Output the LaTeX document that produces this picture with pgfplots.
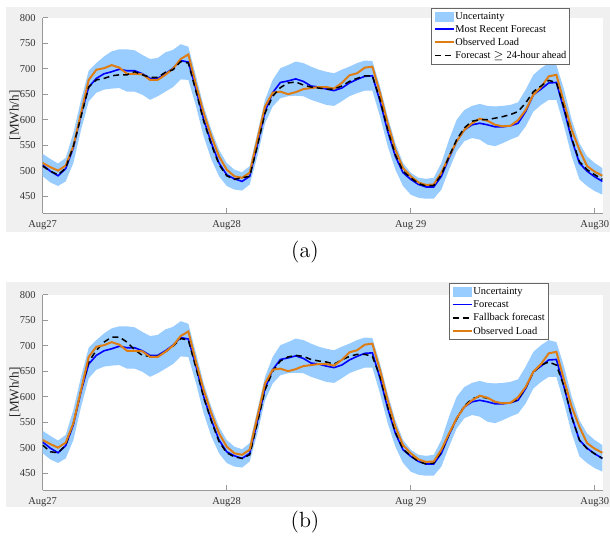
\documentclass[border=0pt]{standalone}
\usepackage{fontspec}
\usepackage{pgfplots}
\pgfplotsset{compat=1.18}
\usepackage{pgfplotstable}
\usepgfplotslibrary{fillbetween}
\newfontfamily\tnr{Liberation Serif}

\definecolor{band}{RGB}{153,204,255}
\definecolor{obs}{RGB}{222,125,20}
\definecolor{figbg}{RGB}{240,240,240}

% hourly values from Aug 27 00:00: uncertainty bounds, forecast, observed load, >=24h forecast
\pgfplotstableread{
h  up  lo  fc  obs ahead
0  533 489 511 515 509
1  523 477 499 507 499
2  514 470 490 500 492
3  525 479 504 510 505
4  574 515 545 548 548
5  639 580 610 613 606
6  696 636 664 678 664
7  711 653 681 698 678
8  724 659 690 701 681
9  734 661 694 707 686
10 738 662 699 702 688
11 738 655 696 690 688
12 736 655 696 690 694
13 727 649 690 689 688
14 719 639 681 678 683
15 721 646 681 678 683
16 732 655 690 688 693
17 737 664 701 700 698
18 748 679 716 719 714
19 743 678 713 728 711
20 685 626 659 668 655
21 626 567 600 613 597
22 580 522 554 567 551
23 541 489 515 528 512
24 515 470 492 502 490
25 502 463 484 489 483
26 497 461 479 486 486
27 509 473 489 496 489
28 574 528 551 561 548
29 639 593 616 626 613
30 678 626 653 653 646
31 701 642 673 655 663
32 707 646 676 650 672
33 714 647 680 654 674
34 711 646 675 660 668
35 704 639 666 662 664
36 698 634 664 664 662
37 694 629 660 664 660
38 691 627 657 661 660
39 698 636 662 672 666
40 704 646 672 687 675
41 711 652 679 691 681
42 716 657 685 702 686
43 715 657 686 704 686
44 665 606 636 652 639
45 606 548 577 593 580
46 554 502 528 541 531
47 515 470 496 505 499
48 496 453 483 489 486
49 486 447 473 477 475
50 484 445 468 472 470
51 486 445 468 473 471
52 515 463 489 496 492
53 561 502 525 528 528
54 600 538 558 558 561
55 619 558 580 580 584
56 627 564 590 593 597
57 631 561 593 602 600
58 627 551 590 598 600
59 626 548 586 590 603
60 627 554 586 587 606
61 629 561 588 588 610
62 634 567 593 599 616
63 659 587 616 619 633
64 688 616 649 649 655
65 701 629 660 664 666
66 711 639 672 685 677
67 707 639 673 688 673
68 659 587 619 633 623
69 600 528 561 580 564
70 554 483 515 541 518
71 528 470 499 509 502
72 515 460 488 498 492
73 505 453 479 490 483
}\dataA

% fallback forecast, panel (b)
\pgfplotstableread{
h  fb
0  505
1  492
2  490
3  505
4  548
5  613
6  668
7  691
8  707
9  717
10 717
11 707
12 692
13 681
14 679
15 679
16 688
17 699
18 714
19 711
20 656
21 598
22 552
23 512
24 490
25 482
26 479
27 486
28 548
29 613
30 650
31 670
32 678
33 681
34 679
35 673
36 670
37 668
38 664
39 672
40 679
41 683
42 683
43 679
44 639
45 580
46 530
47 497
48 484
49 473
50 468
51 470
52 492
53 526
54 556
55 582
56 596
57 600
58 597
59 590
60 587
61 588
62 595
63 618
64 648
65 662
66 668
67 662
68 620
69 560
70 515
71 498
72 488
73 479
}\dataB

\pgfplotsset{
  loadaxis/.style={
    scale only axis, width=280pt, height=97.65pt,
    xmin=0, xmax=73.04, ymin=417, ymax=800,
    xtick={0,24,48,72}, xticklabels={Aug27,Aug28,Aug 29,Aug30},
    ytick={450,500,...,800},
    axis x line*=bottom, axis y line*=left,
    axis line style={black!40},
    axis background/.style={fill=white},
    tick align=inside, major tick length=2.5pt,
    tick style={black!40, thin},
    tick label style={font=\tnr\fontsize{5.25}{6}\selectfont, text=black!80},
    /pgf/number format/assume math mode=true,
    ylabel={[MWh/h]},
    ylabel style={font=\tnr\fontsize{6.6}{7}\selectfont, text=black!85,
      at={(axis description cs:-0.0495,0.5)}, anchor=center},
    legend cell align=left,
    legend style={font=\tnr\fontsize{5.2}{6}\selectfont, draw=black!60, fill=white,
      inner sep=1.2pt, row sep=0.8pt,
      nodes={inner sep=0.4pt, text height=3.8pt, text depth=1.2pt},
      /tikz/every even column/.append style={column sep=1pt}},
    legend image code/.code={\draw[#1] (0pt,0.25pt) -- (9.5pt,0.25pt);},
  },
  bandleg/.style={legend image code/.code={\fill[band] (0pt,-2.5pt) rectangle (9.5pt,2.5pt);}},
}

\begin{document}
\begin{tikzpicture}
\pgfplotsset{set layers}
\begin{pgfonlayer}{axis background}
\fill[figbg] (3pt,155pt) rectangle (305pt,267.5pt);
\fill[figbg] (3pt,17.5pt) rectangle (305pt,130pt);
\end{pgfonlayer}

% (a)
\begin{axis}[loadaxis, at={(21.35pt,164.5pt)}, anchor=south west,
  legend style={at={(0.9416,1.05)}, anchor=north east}]
\addplot[draw=none, name path=upA, forget plot] table[x=h, y=up] {\dataA};
\addplot[draw=none, name path=loA, forget plot] table[x=h, y=lo] {\dataA};
\addplot[band, draw=none, bandleg] fill between[of=upA and loA];
\addlegendentry{Uncertainty}
\addplot[blue, line width=0.8pt] table[x=h, y=fc] {\dataA};
\addlegendentry{Most Recent Forecast}
\addplot[obs, line width=1pt] table[x=h, y=obs] {\dataA};
\addlegendentry{Observed Load}
\addplot[black, line width=0.75pt, dash pattern=on 3pt off 2pt] table[x=h, y=ahead] {\dataA};
\addlegendentry{Forecast $\geq$ 24-hour ahead}
\end{axis}

% (b)
\begin{axis}[loadaxis, at={(21.35pt,26pt)}, anchor=south west,
  legend style={at={(0.903,1.058)}, anchor=north east}]
\addplot[draw=none, name path=upB, forget plot] table[x=h, y=up] {\dataA};
\addplot[draw=none, name path=loB, forget plot] table[x=h, y=lo] {\dataA};
\addplot[band, draw=none, bandleg] fill between[of=upB and loB];
\addlegendentry{Uncertainty}
\addplot[blue, line width=0.8pt] table[x=h, y=fc] {\dataA};
\addlegendentry{Forecast}
\addplot[black, line width=0.75pt, dash pattern=on 3pt off 2pt] table[x=h, y=fb] {\dataB};
\addlegendentry{Fallback forecast}
\addplot[obs, line width=1pt] table[x=h, y=obs] {\dataA};
\addlegendentry{Observed Load}
\end{axis}

\node[font=\fontsize{11}{13}\selectfont] at (152.5pt,145pt) {(a)};
\node[font=\fontsize{11}{13}\selectfont] at (152.5pt,10pt) {(b)};
\pgfresetboundingbox
\useasboundingbox (0pt,0pt) rectangle (305pt,271pt);
\end{tikzpicture}
\end{document}
